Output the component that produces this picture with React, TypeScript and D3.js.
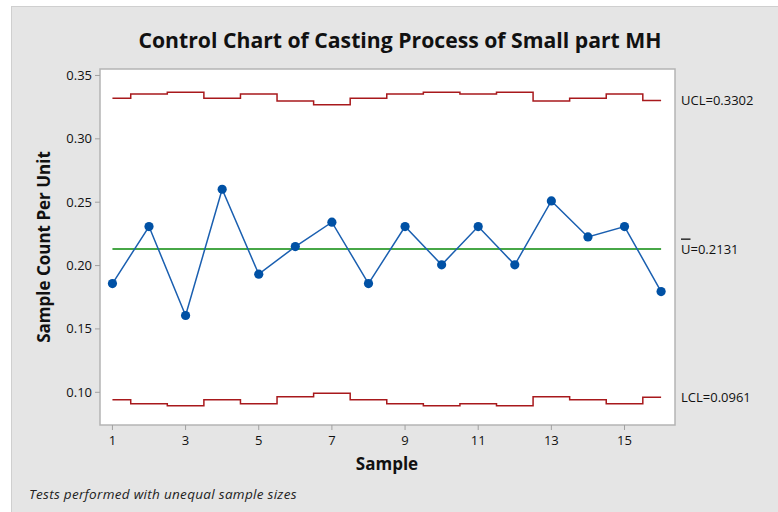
import React from "react";
import * as d3 from "d3";

const samples = [1, 2, 3, 4, 5, 6, 7, 8, 9, 10, 11, 12, 13, 14, 15, 16];
const uValues = [0.1858, 0.2308, 0.1606, 0.2602, 0.1932, 0.215, 0.2342, 0.1858, 0.2308, 0.2006, 0.2308, 0.2006, 0.251, 0.2226, 0.2308, 0.1795];
const uclValues = [0.3321, 0.3353, 0.3368, 0.3321, 0.3353, 0.3298, 0.3269, 0.3321, 0.3353, 0.3368, 0.3353, 0.3368, 0.3298, 0.3321, 0.3353, 0.3302];
const lclValues = [0.0941, 0.0909, 0.0894, 0.0941, 0.0909, 0.0964, 0.0993, 0.0941, 0.0909, 0.0894, 0.0909, 0.0894, 0.0964, 0.0941, 0.0909, 0.0961];
const centerValue = 0.2131;
const yTicks = [0.1, 0.15, 0.2, 0.25, 0.3, 0.35];
const xTicks = [1, 3, 5, 7, 9, 11, 13, 15];
const title = "Control Chart of Casting Process of Small part MH";
const uclLabel = "UCL=0.3302";
const centerLabel = "=0.2131";
const lclLabel = "LCL=0.0961";

const W = 778;
const H = 512;
const plot = { left: 100, top: 69, right: 675, bottom: 425 };
const FONT = "'Open Sans', 'Noto Sans', sans-serif";

export default function App() {
  const x = d3.scaleLinear().domain([0.66, 16.38]).range([plot.left, plot.right]);
  const y = d3.scaleLinear().domain([0.0742, 0.3551]).range([plot.bottom, plot.top]);

  const stepPath = (vals: number[]) => {
    const pts: [number, number][] = [];
    vals.forEach((v, i) => {
      const s = samples[i];
      const x0 = i === 0 ? s : s - 0.5;
      const x1 = i === vals.length - 1 ? s : s + 0.5;
      pts.push([x(x0), y(v)]);
      pts.push([x(x1), y(v)]);
    });
    return d3.line()(pts) as string;
  };

  const dataLine = d3
    .line<number>()
    .x((_, i) => x(samples[i]))
    .y((d) => y(d))(uValues) as string;

  const lastX = x(samples[samples.length - 1]);

  return (
    <svg
      width={W}
      height={H}
      style={{ position: "absolute", left: 0, top: 0, fontFamily: FONT }}
    >
      <rect x={0} y={0} width={W} height={H} fill="#ffffff" />
      <rect x={11.5} y={6.5} width={W} height={H} fill="#e5e5e5" stroke="#cfcfcf" strokeWidth={1} />
      <text x={400} y={48} textAnchor="middle" fontSize={21.2} fontWeight="bold" fill="#111">
        {title}
      </text>
      <rect
        x={plot.left}
        y={plot.top}
        width={plot.right - plot.left}
        height={plot.bottom - plot.top}
        fill="#ffffff"
        stroke="#b4b4b4"
        strokeWidth={1.5}
      />
      {yTicks.map((t) => (
        <g key={"y" + t}>
          <line x1={plot.left - 5} x2={plot.left} y1={y(t)} y2={y(t)} stroke="#a0a0a0" />
          <text x={plot.left - 8} y={y(t)} dy="0.35em" textAnchor="end" fontSize={13} fill="#111">
            {t.toFixed(2)}
          </text>
        </g>
      ))}
      {xTicks.map((t) => (
        <g key={"x" + t}>
          <line x1={x(t)} x2={x(t)} y1={plot.bottom} y2={plot.bottom + 5} stroke="#a0a0a0" />
          <text x={x(t)} y={plot.bottom + 20} textAnchor="middle" fontSize={13} fill="#111">
            {t}
          </text>
        </g>
      ))}
      <text x={387} y={470} textAnchor="middle" fontSize={17} fontWeight="bold" fill="#111">
        Sample
      </text>
      <text
        transform={`translate(50,${(plot.top + plot.bottom) / 2}) rotate(-90)`}
        textAnchor="middle"
        fontSize={17}
        fontWeight="bold"
        fill="#111"
      >
        Sample Count Per Unit
      </text>
      <path d={stepPath(uclValues)} fill="none" stroke="#a8191c" strokeWidth={1.5} />
      <path d={stepPath(lclValues)} fill="none" stroke="#a8191c" strokeWidth={1.5} />
      <line
        x1={x(samples[0])}
        x2={lastX}
        y1={y(centerValue)}
        y2={y(centerValue)}
        stroke="#0a8a0a"
        strokeWidth={1.5}
      />
      <path d={dataLine} fill="none" stroke="#1a5fb0" strokeWidth={1.5} />
      {uValues.map((v, i) => (
        <circle key={i} cx={x(samples[i])} cy={y(v)} r={4.6} fill="#0051a5" />
      ))}
      <text x={681} y={y(uclValues[uclValues.length - 1])} dy="0.35em" fontSize={13} fill="#111">
        {uclLabel}
      </text>
      <text x={681} y={y(centerValue)} dy="0.35em" fontSize={13} fill="#111">
        <tspan style={{ textDecoration: "overline" }}>U</tspan>
        {centerLabel}
      </text>
      <text x={681} y={y(lclValues[lclValues.length - 1])} dy="0.35em" fontSize={13} fill="#111">
        {lclLabel}
      </text>
      <text x={29} y={499} fontSize={13.5} letterSpacing={0.3} fontStyle="italic" fill="#222">
        Tests performed with unequal sample sizes
      </text>
    </svg>
  );
}
